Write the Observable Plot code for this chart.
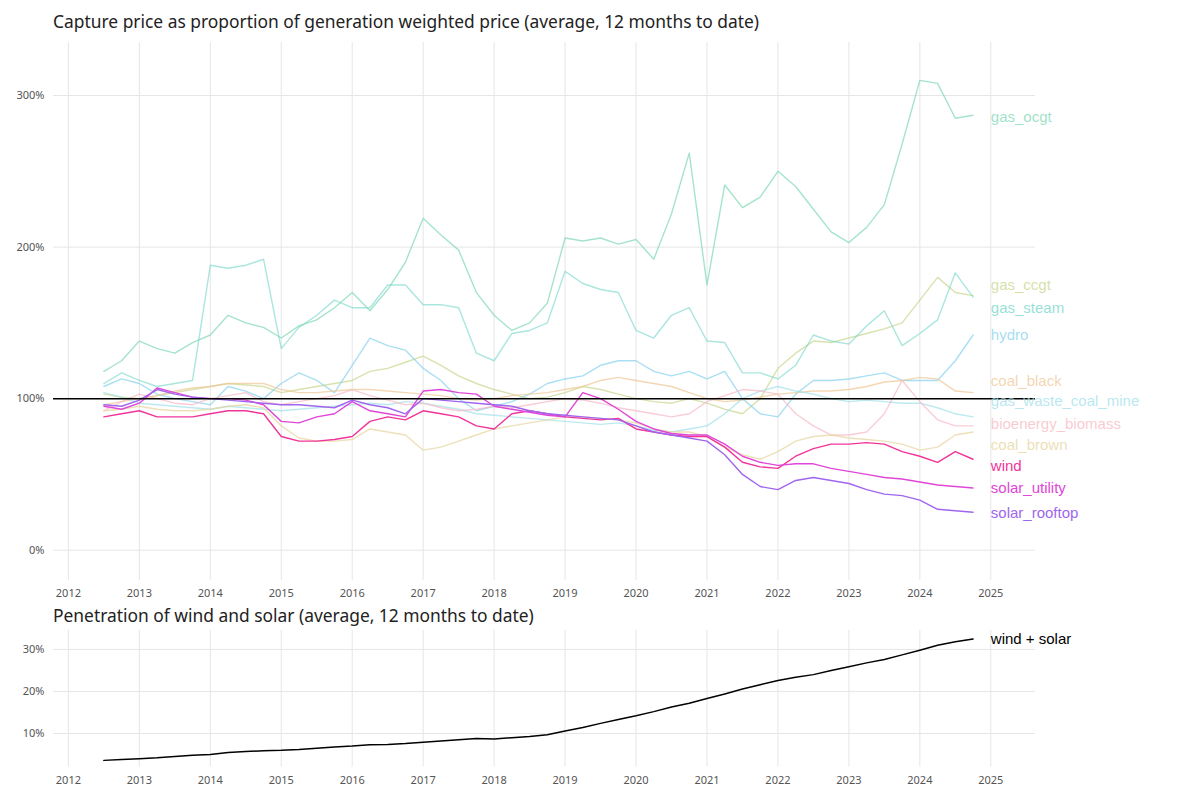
<!DOCTYPE html>
<html><head><meta charset="utf-8">
<script src="https://cdn.jsdelivr.net/npm/d3@7"></script>
<script src="https://cdn.jsdelivr.net/npm/@observablehq/plot@0.6"></script>
<style>
body{margin:0;background:#fff;font-family:"Noto Sans",sans-serif;}
#wrap{position:relative;width:1200px;height:800px;}
.t{position:absolute;left:53px;font-size:17.4px;color:#222;}
#p1{position:absolute;left:0;top:40px;}
#p2{position:absolute;left:0;top:630px;}
</style></head><body>
<div id="wrap">
<div class="t" style="top:9px">Capture price as proportion of generation weighted price (average, 12 months to date)</div>
<div id="p1"></div>
<div class="t" style="top:603px">Penetration of wind and solar (average, 12 months to date)</div>
<div id="p2"></div>
</div>
<script>
// quarterly points from mid-2012 to late 2024
const start = 2012.5, step = 0.25;
const seriesNames = ["gas_ocgt","gas_ccgt","gas_steam","hydro","coal_black","gas_waste_coal_mine","bioenergy_biomass","coal_brown","wind","solar_utility","solar_rooftop"];
const gas_ocgt = [118,125,138,133,130,137,142,155,150,147,140,148,152,160,170,158,172,190,219,208,198,170,155,145,150,163,206,204,206,202,205,192,222,262,175,241,226,233,250,240,225,210,203,213,228,268,310,308,285,287];
const gas_steam = [110,117,112,108,110,112,188,186,188,192,133,147,155,165,160,160,175,175,162,162,160,130,125,143,145,150,184,176,172,170,145,140,155,160,138,137,117,117,113,122,142,138,136,148,158,135,143,152,183,167];
const gas_ccgt = [103,101,100,102,104,106,108,110,109,108,104,106,108,110,112,118,120,124,128,122,115,110,106,103,100,101,104,108,106,103,100,98,97,100,97,93,90,100,120,130,138,137,140,143,146,150,165,180,170,168];
const hydro = [108,113,110,103,100,98,96,108,105,100,110,117,112,104,122,140,135,132,120,112,100,92,95,98,103,110,113,115,122,125,125,118,115,118,113,118,100,90,88,103,112,112,113,115,117,112,112,112,125,142];
const coal_black = [96,98,100,102,105,107,108,110,110,110,106,104,104,105,106,106,105,104,103,102,100,99,100,102,103,104,106,108,112,114,112,110,108,104,100,98,99,101,103,104,105,105,106,108,111,112,114,113,105,104];
const gas_waste_coal_mine = [104,101,97,96,95,94,93,95,94,93,92,93,94,95,96,97,96,98,97,95,93,90,89,88,87,86,85,84,83,84,82,79,78,80,82,90,100,105,108,105,103,100,98,99,98,97,97,94,90,88];
const bioenergy_biomass = [92,98,103,100,97,96,100,102,104,98,96,98,100,102,106,102,99,96,97,94,92,93,95,94,96,98,100,99,97,94,92,90,88,90,98,102,106,105,103,90,82,76,76,78,90,112,98,86,82,82];
const coal_brown = [92,93,95,93,92,92,93,95,96,94,82,74,72,72,73,80,78,76,66,68,72,76,80,82,84,86,88,88,87,86,84,80,78,78,75,68,63,60,65,72,75,76,74,73,72,70,66,68,76,78];
const wind = [88,90,92,88,88,88,90,92,92,90,75,72,72,73,75,85,88,86,92,90,88,82,80,90,92,90,88,87,86,87,80,78,76,75,75,68,58,55,54,62,67,70,70,71,70,65,62,58,65,60];
const solar_utility = [95,93,97,107,104,101,100,100,99,96,85,84,88,90,98,92,90,88,105,106,104,103,95,93,91,89,88,104,100,93,85,80,77,76,76,70,62,58,56,57,57,54,52,50,48,47,45,43,42,41];
const solar_rooftop = [96,95,99,106,103,101,100,99,98,97,96,96,95,94,99,96,94,90,100,99,98,97,96,95,92,90,89,88,87,86,82,78,76,74,72,63,50,42,40,46,48,46,44,40,37,36,33,27,26,25];
const seriesColors = ["#7fd8b4","#c8d58c","#72d6c8","#86d2ee","#f0c896","#9fe0ea","#f8b8c4","#e6d49c","#f0359a","#e046d8","#a066ee"];
const seriesOpacity = [0.7,0.7,0.6,0.7,0.7,0.7,0.7,0.7,1,1,1];
const labelY = [286,175,160,142,111.5,98,83,69,55.4,41,24.4];
const penetration = [3.6,3.8,4.0,4.2,4.5,4.8,5.0,5.5,5.7,5.9,6.0,6.2,6.5,6.8,7.0,7.3,7.4,7.6,7.9,8.2,8.5,8.8,8.7,9.0,9.3,9.7,10.6,11.4,12.4,13.3,14.2,15.2,16.3,17.2,18.3,19.4,20.6,21.6,22.6,23.4,24.0,25.0,25.9,26.8,27.6,28.7,29.8,31.0,31.8,32.5];

const all = [gas_ocgt,gas_ccgt,gas_steam,hydro,coal_black,gas_waste_coal_mine,bioenergy_biomass,coal_brown,wind,solar_utility,solar_rooftop];
const rows = [];
all.forEach((arr,k)=>arr.forEach((v,i)=>rows.push({t:start+i*step,v,s:seriesNames[k]})));
const labels = seriesNames.map((s,k)=>({s,y:labelY[k]}));
const pen = penetration.map((v,i)=>({t:start+i*step,v}));
const years = d3.range(2012,2026);
const ff = "Noto Sans, sans-serif";

const p1 = Plot.plot({
  width:1200,height:560,marginLeft:53,marginRight:165,marginTop:2,marginBottom:20,
  style:{fontFamily:ff,fontSize:"11px",color:"#555"},
  x:{domain:[2011.79,2025.63],ticks:years,tickFormat:d3.format("d"),tickSize:0,label:null},
  y:{domain:[-20,335],ticks:[0,100,200,300],tickFormat:d=>d+"%",tickSize:0,label:null},
  marks:[
    Plot.gridX(years,{stroke:"#e6e6e6",strokeOpacity:1}),
    Plot.gridY([0,100,200,300],{stroke:"#e6e6e6",strokeOpacity:1}),
    ...seriesNames.map((s,k)=>Plot.line(rows.filter(r=>r.s===s),{x:"t",y:"v",stroke:seriesColors[k],strokeOpacity:seriesOpacity[k],strokeWidth:1.4})),
    Plot.ruleY([100],{stroke:"#000",strokeWidth:1.5}),
    Plot.text(labels,{x:2025,y:"y",text:"s",textAnchor:"start",fill:(d,i)=>seriesColors[i],fillOpacity:(d,i)=>seriesOpacity[i]<1?0.75:1,fontSize:15,fontFamily:"Liberation Sans, Arial"})
  ]
});
document.getElementById("p1").append(p1);

const p2 = Plot.plot({
  width:1200,height:170,marginLeft:53,marginRight:165,marginTop:0,marginBottom:33.4,
  style:{fontFamily:ff,fontSize:"11px",color:"#555"},
  x:{domain:[2011.79,2025.63],ticks:years,tickFormat:d3.format("d"),tickSize:0,label:null},
  y:{domain:[2,34.5],ticks:[10,20,30],tickFormat:d=>d+"%",tickSize:0,label:null},
  marks:[
    Plot.gridX(years,{stroke:"#e6e6e6",strokeOpacity:1}),
    Plot.gridY([10,20,30],{stroke:"#e6e6e6",strokeOpacity:1}),
    Plot.line(pen,{x:"t",y:"v",stroke:"#000",strokeWidth:1.5}),
    Plot.text([pen[pen.length-1]],{x:2025,y:"v",text:()=>"wind + solar",textAnchor:"start",fill:"#000",fontSize:15,fontFamily:"Liberation Sans, Arial"})
  ]
});
document.getElementById("p2").append(p2);
</script>
</body></html>
